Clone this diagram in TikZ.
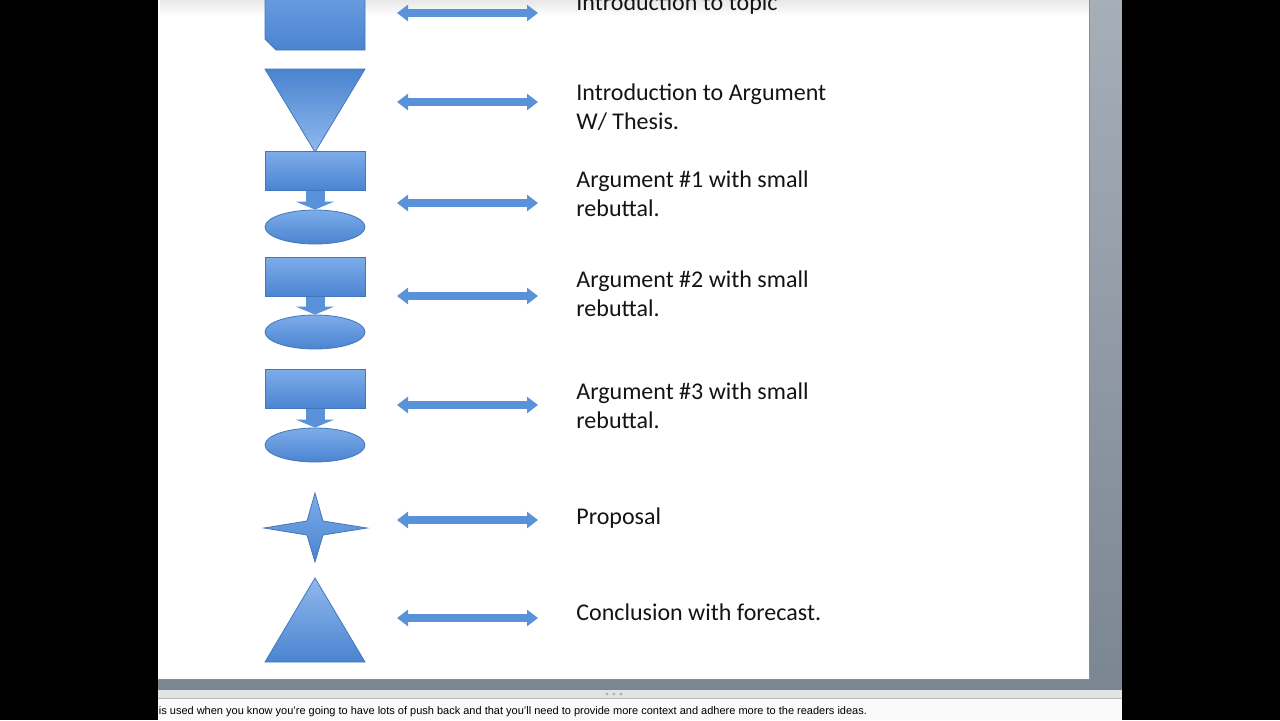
\documentclass[tikz,border=0pt]{standalone}
\usepackage{fontspec}
\setmainfont{Carlito}
\newfontfamily\notesfont{Liberation Sans}
\usepackage{tikz}
\usetikzlibrary{arrows.meta,shapes.geometric}

\definecolor{shapetop}{HTML}{7DACEA}
\definecolor{shapebot}{HTML}{4A84D0}
\definecolor{shapeline}{HTML}{4277BC}
\definecolor{arrowblue}{HTML}{5A92DA}
\definecolor{paneltop}{HTML}{A6AEB8}
\definecolor{panelbot}{HTML}{7B8693}

\begin{document}
\begin{tikzpicture}[
  x=0.5pt, y=-0.5pt,
  blueshape/.style = {draw=shapeline, line width=0.4pt, top color=shapetop, bottom color=shapebot},
  box/.style       = {blueshape, rectangle, minimum width=50pt, minimum height=19.5pt, inner sep=0pt},
  oval/.style      = {blueshape, ellipse, minimum width=50pt, minimum height=17pt, inner sep=0pt},
  txt/.style       = {anchor=base west, align=left, inner sep=0pt,
                      font=\fontsize{12}{14.5}\selectfont, text=black!92},
  notes/.style     = {anchor=base west, inner sep=0pt, font=\notesfont\fontsize{5.5}{7}\selectfont},
  link/.style      = {arrowblue, line width=3.6pt,
                      {Triangle[width=8pt,length=5.5pt]}-{Triangle[width=8pt,length=5.5pt]}},
  drop/.style      = {arrowblue, line width=9.5pt, -{Triangle[width=19pt,length=4pt]}}
]
\useasboundingbox (0,0) rectangle (1280,720);

% window around the slide
\shade[top color=paneltop, bottom color=panelbot] (158,0) rectangle (1122,690);
\fill[gray!22] (158,690) rectangle (1122,698);
\draw[gray!55] (158,698) -- (1122,698);
\fill[white!98!black] (158,698.5) rectangle (1122,720);
\foreach \x in {607,614,621}
  \fill[gray!60] (\x,694) circle (0.8pt);

% slide
\fill[white] (158,0) rectangle (1089,679);
\shade[top color=black!9, bottom color=white] (160,0) rectangle (1089,16);
\draw[black!45] (1089,0) -- (1089,679) -- (158,679);

% left column of shapes
\path[blueshape] (265,-40) -- (365,-40) -- (365,50) -- (276,50) -- (265,39) -- cycle;
\path[blueshape, top color=shapebot, bottom color=shapetop!85!white]
  (265,69) -- (365,69) -- (315,152) -- cycle;
\node[box]  (arg1) at (315,171) {};
\node[oval] (reb1) at (315,227) {};
\node[box]  (arg2) at (315,277) {};
\node[oval] (reb2) at (315,332) {};
\node[box]  (arg3) at (315,389) {};
\node[oval] (reb3) at (315,445) {};
\path[blueshape] (315,493) -- (323,521) -- (367,528) -- (323,535) -- (315,562)
  -- (307,535) -- (264,528) -- (307,521) -- cycle;
\path[blueshape, top color=shapetop!85!white] (315,578) -- (365,662) -- (265,662) -- cycle;

\draw[drop] (arg1.south) -- (reb1.north);
\draw[drop] (arg2.south) -- (reb2.north);
\draw[drop] (arg3.south) -- (reb3.north);

% double arrows
\foreach \y [count=\i] in {13,102,203,296,405,520,618}{
  \coordinate (al\i) at (397,\y);
  \coordinate (ar\i) at (538,\y);
  \draw[link] (al\i) -- (ar\i);
}

% descriptions (base = last line)
\node[txt] (topic)   at (576,10)  {Introduction to topic};
\node[txt] (thesis)  at (576,129) {Introduction to Argument\\W/ Thesis.};
\node[txt] (argone)  at (576,216) {Argument \#1 with small\\rebuttal.};
\node[txt] (argtwo)  at (576,316) {Argument \#2 with small\\rebuttal.};
\node[txt] (argthree)at (576,428) {Argument \#3 with small\\rebuttal.};
\node[txt] (propose) at (576,524) {Proposal};
\node[txt] (concl)   at (576,620) {Conclusion with forecast.};

\node[notes] (note) at (158.5,714) {is used when you know you’re going to have lots of push back and that you’ll need to provide more context and adhere more to the readers ideas.};

% black side bars
\fill[black] (0,0) rectangle (158,720);
\fill[black] (1122,0) rectangle (1280,720);
\end{tikzpicture}
\end{document}
